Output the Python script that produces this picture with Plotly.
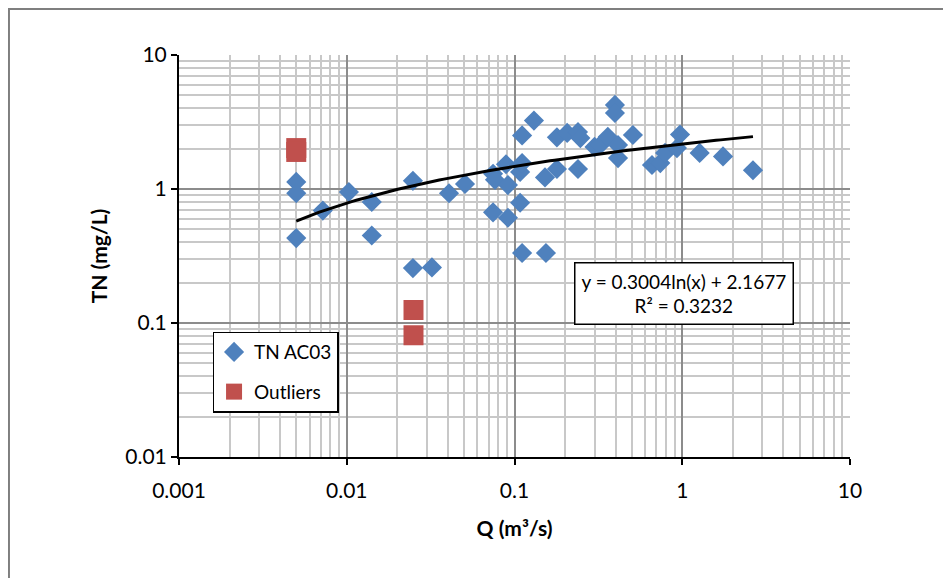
import numpy as np
import plotly.graph_objects as go

# TN AC03 samples: discharge Q (m3/s) and TN (mg/L)
q_tn = [0.005, 0.005, 0.005, 0.0072, 0.0103, 0.0141, 0.0141, 0.0248, 0.0248, 0.0322,
        0.0407, 0.0507, 0.0745, 0.0765, 0.0745, 0.089, 0.0914, 0.0914, 0.108, 0.111,
        0.108, 0.111, 0.111, 0.1306, 0.154, 0.152, 0.179, 0.179, 0.206, 0.239,
        0.247, 0.239, 0.30, 0.324, 0.36, 0.397, 0.397, 0.414, 0.414, 0.508,
        0.66, 0.74, 0.79, 0.93, 0.97, 1.27, 1.75, 2.64]
tn = [1.13, 0.93, 0.43, 0.69, 0.95, 0.80, 0.45, 1.15, 0.257, 0.26,
      0.93, 1.09, 1.30, 1.17, 0.67, 1.53, 1.07, 0.61, 1.34, 1.56,
      0.79, 2.51, 0.333, 3.24, 0.333, 1.22, 1.41, 2.43, 2.62, 2.66,
      2.40, 1.41, 2.06, 2.13, 2.45, 4.24, 3.69, 2.13, 1.70, 2.53,
      1.51, 1.56, 1.86, 2.02, 2.55, 1.86, 1.75, 1.38]

# Outliers
q_out = [0.005, 0.005, 0.025, 0.025]
tn_out = [2.02, 1.89, 0.125, 0.081]

# Logarithmic trendline coefficients (as reported on the chart)
trend_a = 0.3004
trend_b = 2.1677
r2 = 0.3232

x_ticks = [0.001, 0.01, 0.1, 1, 10]
y_ticks = [0.01, 0.1, 1, 10]

FONT = "Lato"
BLUE = "#4F81BD"
RED = "#C0504D"

xt = np.logspace(np.log10(min(q_tn)), np.log10(max(q_tn)), 100)
yt = trend_a * np.log(xt) + trend_b

fig = go.Figure()
fig.add_trace(go.Scatter(
    x=q_tn, y=tn, mode="markers", name="TN AC03", legendgroup="a",
    marker=dict(symbol="diamond", size=15.5, color=BLUE, line=dict(width=0)),
))
fig.add_trace(go.Scatter(
    x=q_out, y=tn_out, mode="markers", name="Outliers", legendgroup="b",
    marker=dict(symbol="square", size=20, color=RED, line=dict(width=0)),
))
fig.add_trace(go.Scatter(
    x=xt, y=yt, mode="lines", showlegend=False,
    line=dict(color="black", width=3),
))

axis_common = dict(
    type="log",
    showline=True, linecolor="black", linewidth=2,
    ticks="outside", ticklen=6, tickcolor="black", tickwidth=1.5,
    showgrid=True, gridcolor="#8C8C8C", gridwidth=1.5,
    minor=dict(dtick="D1", showgrid=True, gridcolor="#C8C8C8", gridwidth=1.5, ticks=""),
    tickfont=dict(family=FONT, size=21, color="black"),
    zeroline=False,
)

fig.update_xaxes(
    **axis_common,
    range=[-3, 1], dtick=1,
    tickvals=x_ticks, ticktext=[str(v) for v in x_ticks],
    ticklabelstandoff=8,
    title=dict(text="<b>Q (m³/s)</b>", font=dict(family=FONT, size=21, color="black"), standoff=20),
)
fig.update_yaxes(
    **axis_common,
    range=[-2, 1], dtick=1,
    tickvals=y_ticks, ticktext=[str(v) for v in y_ticks],
    title=dict(text="<b>TN (mg/L)</b>", font=dict(family=FONT, size=21, color="black"), standoff=12),
)

fig.add_annotation(
    x=np.log10(1.03), y=np.log10(0.167), xref="x", yref="y",
    text=f"y = {trend_a}ln(x) + {trend_b}<br>R² = {r2}",
    showarrow=False, align="center",
    font=dict(family=FONT, size=19, color="black"),
    bgcolor="white", bordercolor="black", borderwidth=1.5, borderpad=6,
)

# outer chart-area border
fig.add_shape(type="rect", xref="paper", yref="paper",
              x0=-0.2534, x1=1.1416, y0=-0.35, y1=1.1144,
              line=dict(color="#7F7F7F", width=2), layer="below")

fig.update_layout(
    width=943, height=570,
    margin=dict(l=171, r=101, t=47, b=121),
    paper_bgcolor="white", plot_bgcolor="white",
    font=dict(family=FONT, color="black"),
    legend=dict(
        x=0.05, y=0.312, xanchor="left", yanchor="top",
        bgcolor="white", bordercolor="black", borderwidth=1.5,
        font=dict(family=FONT, size=19, color="black"),
        tracegroupgap=12, itemsizing="trace",
    ),
)

fig.write_html("out.html")
